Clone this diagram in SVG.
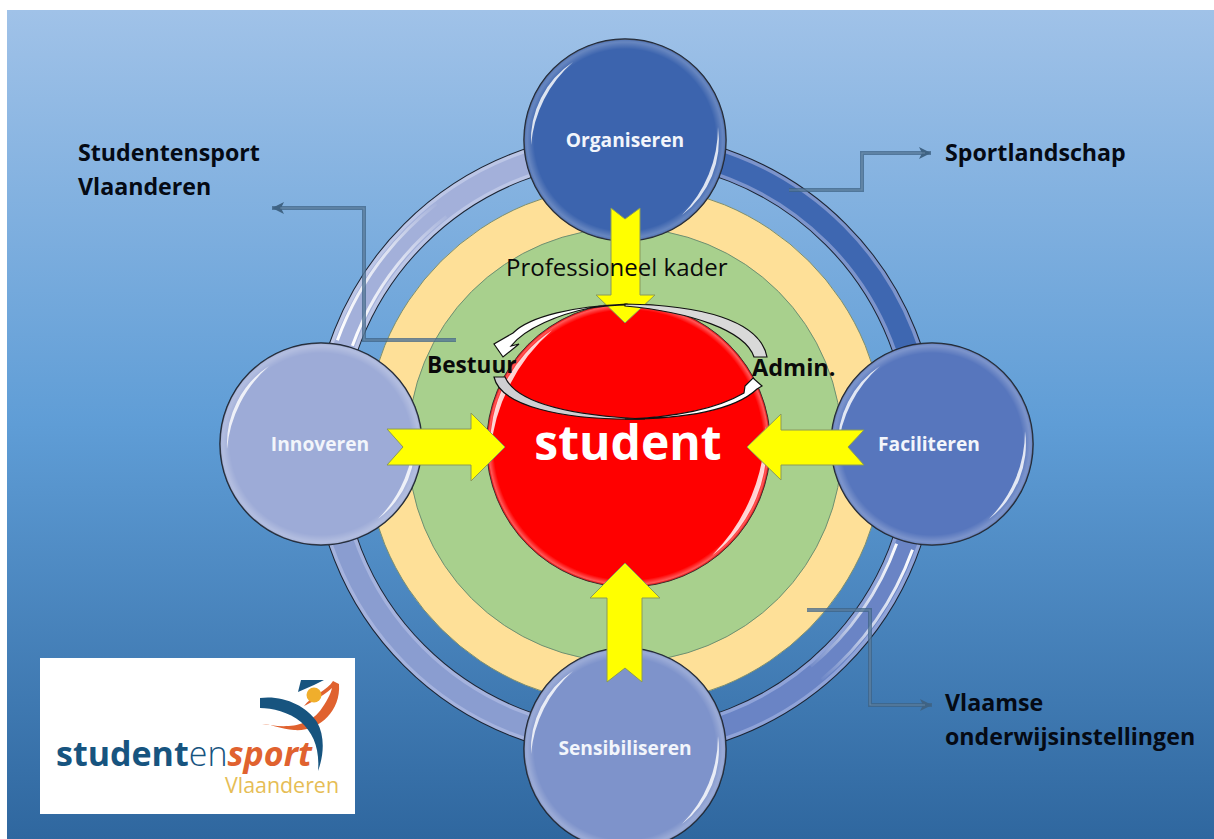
<svg xmlns="http://www.w3.org/2000/svg" width="1214" height="839" viewBox="0 0 1214 839">
<defs>
<linearGradient id="bg" x1="0" y1="0" x2="0" y2="1"><stop offset="0" stop-color="#a0c2e8"/><stop offset="0.5" stop-color="#5f9dd6"/><stop offset="1" stop-color="#2f679f"/></linearGradient>
<radialGradient id="edge" cx="0.5" cy="0.5" r="0.5"><stop offset="0.9" stop-color="#fff" stop-opacity="0"/><stop offset="0.97" stop-color="#fff" stop-opacity="0.22"/><stop offset="1" stop-color="#fff" stop-opacity="0.12"/></radialGradient>
<radialGradient id="redEdge" cx="0.5" cy="0.5" r="0.5"><stop offset="0.95" stop-color="#fff" stop-opacity="0"/><stop offset="0.985" stop-color="#fff" stop-opacity="0.35"/><stop offset="1" stop-color="#800" stop-opacity="0.3"/></radialGradient>
<linearGradient id="fadeUL" gradientUnits="userSpaceOnUse" x1="340" y1="340" x2="445" y2="205"><stop offset="0" stop-color="#fff"/><stop offset="0.6" stop-color="#fff" stop-opacity="0.6"/><stop offset="1" stop-color="#fff" stop-opacity="0"/></linearGradient>
<linearGradient id="fadeLR" gradientUnits="userSpaceOnUse" x1="905" y1="545" x2="810" y2="675"><stop offset="0" stop-color="#fff"/><stop offset="0.6" stop-color="#fff" stop-opacity="0.6"/><stop offset="1" stop-color="#fff" stop-opacity="0"/></linearGradient>
<marker id="head" markerWidth="14" markerHeight="14" refX="12" refY="6" orient="auto" markerUnits="userSpaceOnUse"><path d="M0 0L12 6L0 12L3 6Z" fill="#3f6384"/></marker>
<g id="bevel" fill="#fff" fill-opacity="0.82">
<path d="M-94 5A94 94 0 0 1 -52 -78A125 125 0 0 0 -94 5Z"/>
<path d="M93 -13A94 94 0 0 1 57 75A125 125 0 0 0 93 -13Z"/>
</g>
<style>
text{font-family:"Open Sans","Noto Sans",sans-serif}
.lab{font-size:23.200px;font-weight:700;fill:#050a14}
.nl{font-size:19.200px;font-weight:700;fill:#f2f5fb;text-anchor:middle}
.out{fill:none;stroke:#1c2433;stroke-width:30}
.seg{fill:none;stroke-width:28}
.core{fill:none;stroke-width:21}
.hi{fill:none;stroke-width:3}
.node{stroke:#1c2433;stroke-width:1.5}
.edge{fill:url(#edge)}
.arrow{fill:#ffff00;stroke:#8a9a5a;stroke-width:1}
.lead{fill:none;stroke:#3f6384;stroke-width:4;stroke-opacity:.75}
.leadin{fill:none;stroke:#7f9db8;stroke-width:1.200;stroke-opacity:.6}
.curl{stroke:#111;stroke-width:1.200}
</style>
</defs>
<rect width="1214" height="839" fill="#fff"/>
<rect x="7" y="10" width="1207" height="829" fill="url(#bg)"/>

<g id="layers">
<circle cx="625" cy="445" r="260" fill="#fee098" stroke="#7d8f70" stroke-width="1"/>
<circle cx="625" cy="445" r="217" fill="#a8d08d" stroke="#6f8f70" stroke-width="1"/>
</g>

<g id="ring">
<circle class="out" cx="625" cy="445" r="298"/>
<path class="seg" stroke="#7c94cc" d="M625 147A298 298 0 0 1 923 445"/>
<path class="core" stroke="#3e67b1" d="M625 147A298 298 0 0 1 923 445"/>
<path class="seg" stroke="#8fa3d8" d="M923 445A298 298 0 0 1 625 743"/>
<path class="core" stroke="#6a84c5" d="M923 445A298 298 0 0 1 625 743"/>
<path class="seg" stroke="#a5b3de" d="M625 743A298 298 0 0 1 327 445"/>
<path class="core" stroke="#8a9dd0" d="M625 743A298 298 0 0 1 327 445"/>
<path class="seg" stroke="#bcc6e6" d="M327 445A298 298 0 0 1 625 147"/>
<path class="core" stroke="#a3b0da" d="M327 445A298 298 0 0 1 625 147"/>
<path class="hi" stroke="url(#fadeUL)" d="M352.400 345.800A290 290 0 0 1 446.400 216.500"/>
<path class="hi" stroke="url(#fadeUL)" d="M337.400 340.300A306 306 0 0 1 436.500 203.900"/>
<path class="hi" stroke="url(#fadeLR)" d="M896.600 543.800A289 289 0 0 1 810.800 666.400"/>
<path class="hi" stroke="url(#fadeLR)" d="M912.500 549.700A306 306 0 0 1 821.700 679.400"/>
</g>

<g id="node-organiseren"><circle class="node" cx="625" cy="140" r="101" fill="#3c64ae"/><circle class="edge" cx="625" cy="140" r="101"/><use href="#bevel" transform="translate(625 140)"/><text class="nl" x="625" y="147">Organiseren</text></g>
<g id="node-faciliteren"><circle class="node" cx="932" cy="444" r="101" fill="#5776bd"/><circle class="edge" cx="932" cy="444" r="101"/><use href="#bevel" transform="translate(932 444)"/><text class="nl" x="929" y="451">Faciliteren</text></g>
<g id="node-innoveren"><circle class="node" cx="321" cy="444" r="101" fill="#9dabd7"/><circle class="edge" cx="321" cy="444" r="101"/><use href="#bevel" transform="translate(321 444)"/><text class="nl" x="320" y="451">Innoveren</text></g>
<g id="node-sensibiliseren"><circle class="node" cx="625" cy="749" r="101" fill="#7e93cb"/><circle class="edge" cx="625" cy="749" r="101"/><use href="#bevel" transform="translate(625 749)"/><text class="nl" x="625" y="755">Sensibiliseren</text></g>

<g id="node-student">
<circle cx="628.500" cy="445" r="142" fill="#ff0000" stroke="#333" stroke-width="1"/>
<circle cx="628.500" cy="445" r="142" fill="url(#redEdge)"/>
<use href="#bevel" transform="translate(628.500 445) scale(1.470)"/>
<text x="628" y="460" font-size="48" font-weight="700" fill="#fff" text-anchor="middle">student</text>
</g>

<g id="connectors">
<path class="arrow" d="M611 208L625 219L640 208V295H655L625 323L596 295H611Z"/>
<path class="arrow" d="M387 429H471V413L505 447L471 481V465H387L403 447Z"/>
<path class="arrow" d="M864 430H781V414L747 447L781 480V465H864L848 447Z"/>
<path class="arrow" d="M607 682V598H590L625 563L660 598H642V682L625 668Z"/>
<path class="curl" fill="#fff" d="M627 304C575 306 530 316 513 333L494 344L503 357L519 344L511 346C525 328 560 314 590 308C605 306 618 305 627 305Z"/>
<path class="curl" fill="#d9d9d9" d="M625 304C700 305 760 320 767 357L754 357C745 330 690 312 625 306Z"/>
<path class="curl" fill="#cfcfd2" d="M494 377L505 377C515 400 560 415 645 419C560 421 500 405 494 377Z"/>
<path class="curl" fill="#fff" d="M625 419C680 417 720 407 744 393L745 386L753 378L762 386L757 389C735 410 685 419 625 419Z"/>
<path class="lead" marker-end="url(#head)" d="M789 190H862V153H931"/>
<path class="leadin" d="M789 190H862V153H925"/>
<path class="lead" marker-end="url(#head)" d="M456 340H364V208H272"/>
<path class="leadin" d="M456 340H364V208H280"/>
<path class="lead" marker-end="url(#head)" d="M807 610H870V705H932"/>
<path class="leadin" d="M807 610H870V705H925"/>
</g>

<g id="labels">
<text x="506" y="276" font-size="24" fill="#0a0a0a">Professioneel kader</text>
<text x="427" y="373" font-size="22.600" font-weight="700" fill="#0a0a0a">Bestuur</text>
<text x="752" y="376" font-size="23.500" font-weight="700" fill="#0a0a0a">Admin.</text>
<text class="lab" x="78" y="161">Studentensport</text>
<text class="lab" x="78" y="195">Vlaanderen</text>
<text class="lab" x="945" y="161">Sportlandschap</text>
<text class="lab" x="945" y="711">Vlaamse</text>
<text class="lab" x="945" y="745">onderwijsinstellingen</text>
</g>

<g id="logo">
<rect x="40" y="658" width="315" height="156" fill="#fff"/>
<path d="M304 706C311 696 328 690 333 681L339 684C341 712 318 732 294 730C282 729 270 724 262 724C276 726 306 732 322 708C329 698 331 692 332 688C322 697 312 702 304 706Z" fill="#e0622f"/>
<path d="M260 698C282 695 306 705 317 722C325 736 324 755 318 771C320 748 313 733 301 722C289 712 272 708 260 708Z" fill="#17547f"/>
<path d="M301 680H324L314 685L298 692Z" fill="#17547f"/>
<circle cx="314" cy="695" r="7.500" fill="#f0ae2c"/>
<text x="56" y="766" font-size="34" fill="#17547f"><tspan font-weight="700">student</tspan><tspan font-weight="300">en</tspan><tspan font-weight="700" font-style="italic" fill="#e0622f">sport</tspan></text>
<text x="225" y="793" font-size="21" fill="#e6bd55" textLength="114" lengthAdjust="spacingAndGlyphs">Vlaanderen</text>
</g>
</svg>
